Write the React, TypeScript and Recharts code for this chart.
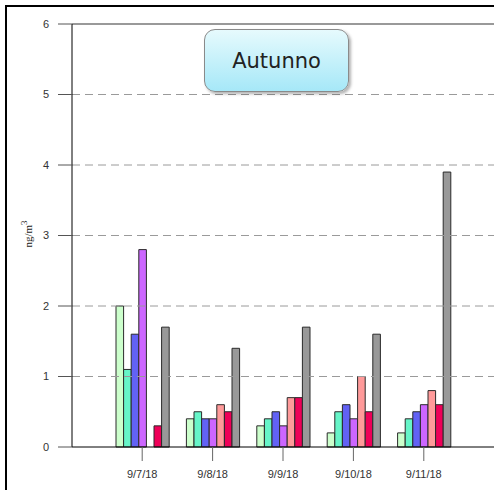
import React from 'react';
import { BarChart, Bar, XAxis, YAxis, ReferenceLine } from 'recharts';

const dates = ['9/7/18', '9/8/18', '9/9/18', '9/10/18', '9/11/18'];
const s1 = [2.0, 0.4, 0.3, 0.2, 0.2];
const s2 = [1.1, 0.5, 0.4, 0.5, 0.4];
const s3 = [1.6, 0.4, 0.5, 0.6, 0.5];
const s4 = [2.8, 0.4, 0.3, 0.4, 0.6];
const s5: (number | null)[] = [null, 0.6, 0.7, 1.0, 0.8];
const s6 = [0.3, 0.5, 0.7, 0.5, 0.6];
const s7 = [1.7, 1.4, 1.7, 1.6, 3.9];
const yTicks = [0, 1, 2, 3, 4, 5, 6];
const gridValues = [1, 2, 3, 4, 5];
const seriesKeys = ['s1', 's2', 's3', 's4', 's5', 's6', 's7'];
const colors = ['#ccffcc', '#66f5c8', '#6262f5', '#cc66ff', '#ff9a9a', '#ee0058', '#999999'];
const title = 'Autunno';

const data = dates.map((d, i) => ({
  date: d,
  s1: s1[i], s2: s2[i], s3: s3[i], s4: s4[i], s5: s5[i], s6: s6[i], s7: s7[i],
}));

const YLabel = () => (
  <text
    x={0}
    y={0}
    transform="translate(32,234) rotate(-90)"
    textAnchor="middle"
    fontFamily="'Liberation Serif', 'Times New Roman', serif"
    fontSize={11}
    fill="#222"
  >
    ng/m<tspan dy={-5} fontSize={9}>3</tspan>
  </text>
);

export default function App() {
  return (
    <div style={{ position: 'absolute', left: 0, top: 0, width: 494, height: 490, background: '#fff', overflow: 'hidden' }}>
      <div
        style={{
          position: 'absolute', left: 5, top: 5, width: 489, height: 485,
          borderTop: '2px solid #000', borderLeft: '2px solid #000', boxSizing: 'border-box',
        }}
      />
      <div style={{ position: 'absolute', left: 0, top: 0 }}>
        <BarChart
          width={520}
          height={490}
          data={data}
          margin={{ top: 24, right: 0, bottom: 13, left: 0 }}
          barGap={0}
          barSize={7.6}
        >
          {gridValues.map((v) => (
            <ReferenceLine key={v} y={v} stroke="#9a9a9a" strokeDasharray="8 5" />
          ))}
          <ReferenceLine y={6} stroke="#777" strokeWidth={1.5} />
          <XAxis
            dataKey="date"
            height={30}
            padding={{ left: 35, right: 61 }}
            axisLine={{ stroke: '#000', strokeWidth: 1 }}
            tickLine={{ stroke: '#666' }}
            tickSize={14}
            tickMargin={9}
            tick={{ fill: '#333', fontSize: 11, fontFamily: "'Liberation Sans', Arial, sans-serif" }}
            interval={0}
          />
          <YAxis
            width={72}
            domain={[0, 6]}
            ticks={yTicks}
            axisLine={{ stroke: '#000', strokeWidth: 1 }}
            tickLine={{ stroke: '#555' }}
            tickSize={14}
            tickMargin={9}
            tick={{ fill: '#333', fontSize: 11, fontFamily: "'Liberation Sans', Arial, sans-serif" }}
            label={<YLabel />}
          />
          {seriesKeys.map((k, i) => (
            <Bar
              key={k}
              dataKey={k}
              fill={colors[i]}
              stroke="#2a2a2a"
              strokeWidth={1}
              isAnimationActive={false}
            />
          ))}
        </BarChart>
      </div>
      <div
        style={{
          position: 'absolute', left: 204, top: 29, width: 145, height: 63, boxSizing: 'border-box',
          border: '1.5px solid #8a8a8a', borderRadius: 11,
          background: 'linear-gradient(#e6fafd, #a6e8f8)',
          boxShadow: '2px 2px 3px rgba(0,0,0,0.3)',
          display: 'flex', alignItems: 'center', justifyContent: 'center',
          fontFamily: "'DejaVu Sans', Verdana, sans-serif", fontSize: 21, color: '#222',
        }}
      >
        {title}
      </div>
    </div>
  );
}
